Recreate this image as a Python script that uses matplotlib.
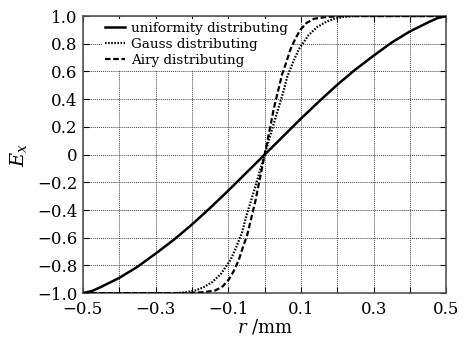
# 均匀・高斯・艾里分布の電場 E_x のグラフ
import numpy as np
import matplotlib.pyplot as plt

# 読み取りデータ（右半分、原点対称で左半分を作る）
r_uni = [0.0, 0.05, 0.1, 0.15, 0.2, 0.25, 0.3, 0.35, 0.4, 0.45, 0.475, 0.5]
e_uni = [0.0, 0.13, 0.26, 0.385, 0.505, 0.615, 0.715, 0.81, 0.89, 0.955, 0.985, 1.0]

r_gauss = [0.0, 0.02, 0.036, 0.05, 0.062, 0.08, 0.094, 0.12, 0.144, 0.17, 0.19, 0.22, 0.25, 0.3, 0.5]
e_gauss = [0.0, 0.18, 0.32, 0.44, 0.56, 0.68, 0.76, 0.86, 0.92, 0.96, 0.98, 0.995, 1.0, 1.0, 1.0]

r_airy = [0.0, 0.013, 0.025, 0.048, 0.06, 0.071, 0.085, 0.098, 0.115, 0.135, 0.16, 0.18, 0.22, 0.5]
e_airy = [0.0, 0.17, 0.33, 0.58, 0.67, 0.76, 0.84, 0.90, 0.95, 0.98, 0.99, 0.995, 1.0, 1.0]

labels = ["uniformity distributing", "Gauss distributing", "Airy distributing"]

x_ticks = np.round(np.arange(-0.5, 0.51, 0.1), 1)
x_ticklabels = ["\u22120.5", "", "\u22120.3", "", "\u22120.1", "", "0.1", "", "0.3", "", "0.5"]
y_ticks = np.round(np.arange(-1.0, 1.01, 0.2), 1)
y_ticklabels = ["\u22121.0", "\u22120.8", "\u22120.6", "\u22120.4", "\u22120.2", "0",
                "0.2", "0.4", "0.6", "0.8", "1.0"]


def mirror(r, e):
    r = np.array(r)
    e = np.array(e)
    return np.concatenate([-r[::-1], r[1:]]), np.concatenate([-e[::-1], e[1:]])


plt.rcParams['font.family'] = ['DejaVu Serif']
plt.rcParams['mathtext.fontset'] = 'dejavuserif'

fig = plt.figure(figsize=(4.76, 3.49), dpi=100)
ax = fig.add_axes([0.174, 0.160, 0.764, 0.794])

x, y = mirror(r_uni, e_uni)
ax.plot(x, y, color='black', lw=1.8, ls='-', label=labels[0], zorder=3)
x, y = mirror(r_gauss, e_gauss)
ax.plot(x, y, color='black', lw=1.6, ls=(0, (0.7, 0.7)), label=labels[1], zorder=3)
x, y = mirror(r_airy, e_airy)
ax.plot(x, y, color='black', lw=1.6, ls=(0, (2.5, 1.2)), label=labels[2], zorder=3)

ax.set_xlim(-0.5, 0.5)
ax.set_ylim(-1.0, 1.0)
ax.set_xticks(x_ticks)
ax.set_xticklabels(x_ticklabels)
ax.set_yticks(y_ticks)
ax.set_yticklabels(y_ticklabels)
ax.tick_params(direction='in', top=True, right=True, labelsize=12, length=4)
ax.tick_params(axis='x', pad=6)
ax.tick_params(axis='y', pad=4)

ax.grid(True, color='#444444', ls=(0, (1, 1)), lw=0.7, zorder=1)
for s in ax.spines.values():
    s.set_color('#555555')
    s.set_linewidth(1.2)

ax.set_xlabel("$r$ /mm", fontsize=13, labelpad=-1)
ax.set_ylabel("$E_x$", fontsize=14, labelpad=6)

leg = ax.legend(loc='upper left', bbox_to_anchor=(0.045, 1.0), fontsize=9.7, frameon=True,
                handlelength=1.45, handletextpad=0.45, labelspacing=0.2,
                borderaxespad=0.2, borderpad=0.25)
leg.get_frame().set_edgecolor('none')
leg.get_frame().set_facecolor('white')
leg.get_frame().set_alpha(1.0)
leg.set_zorder(2.8)

fig.savefig("out.png", dpi=100)
